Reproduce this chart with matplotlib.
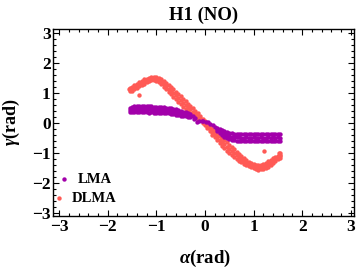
import matplotlib
matplotlib.use("Agg")
import matplotlib.pyplot as plt
from matplotlib.ticker import MultipleLocator

plt.rcParams['font.family'] = ['Liberation Serif', 'DejaVu Serif']
plt.rcParams['font.weight'] = 'bold'
plt.rcParams['mathtext.fontset'] = 'custom'
plt.rcParams['mathtext.it'] = 'Liberation Serif:italic:bold'
plt.rcParams['mathtext.rm'] = 'Liberation Serif:bold'

# ---------------- data ----------------
dlma_alpha = [-1.55, -1.50, -1.45, -1.40, -1.35, -1.30, -1.25, -1.20, -1.15, -1.10,
              -1.05, -1.00, -0.95, -0.90, -0.85, -0.80, -0.75, -0.70, -0.65, -0.60,
              -0.55, -0.50, -0.45, -0.40, -0.35, -0.30, -0.25, -0.20, -0.15, -0.10,
              -0.05, 0.00, 0.05, 0.10, 0.15, 0.20, 0.25, 0.30, 0.35, 0.40,
              0.45, 0.50, 0.55, 0.60, 0.65, 0.70, 0.75, 0.80, 0.85, 0.90,
              0.95, 1.00, 1.05, 1.10, 1.15, 1.20, 1.25, 1.30, 1.35, 1.40,
              1.45, 1.50, 1.55]
dlma_gamma_upper = [1.17, 1.20, 1.25, 1.31, 1.36, 1.40, 1.45, 1.48, 1.50, 1.52,
                    1.52, 1.52, 1.49, 1.45, 1.39, 1.32, 1.26, 1.20, 1.13, 1.05,
                    0.98, 0.90, 0.81, 0.73, 0.65, 0.58, 0.49, 0.41, 0.33, 0.25,
                    0.15, 0.07, -0.03, -0.12, -0.20, -0.27, -0.35, -0.43, -0.49, -0.57,
                    -0.64, -0.72, -0.80, -0.87, -0.95, -1.03, -1.10, -1.17, -1.23, -1.28,
                    -1.33, -1.37, -1.39, -1.39, -1.38, -1.36, -1.32, -1.27, -1.23, -1.17,
                    -1.12, -1.08, -1.06]
dlma_gamma_middle = [1.12, 1.14, 1.19, 1.24, 1.29, 1.33, 1.38, 1.42, 1.45, 1.47,
                     1.47, 1.46, 1.42, 1.37, 1.30, 1.22, 1.15, 1.08, 1.00, 0.92,
                     0.84, 0.76, 0.68, 0.60, 0.53, 0.46, 0.38, 0.31, 0.24, 0.17,
                     0.08, 0.00, -0.10, -0.20, -0.29, -0.37, -0.46, -0.55, -0.62, -0.70,
                     -0.78, -0.86, -0.93, -1.00, -1.07, -1.14, -1.20, -1.26, -1.31, -1.36,
                     -1.40, -1.44, -1.46, -1.47, -1.46, -1.45, -1.41, -1.36, -1.31, -1.25,
                     -1.19, -1.14, -1.11]
dlma_gamma_lower = [1.07, 1.08, 1.13, 1.17, 1.22, 1.26, 1.31, 1.36, 1.40, 1.42,
                    1.42, 1.40, 1.35, 1.29, 1.21, 1.12, 1.04, 0.96, 0.87, 0.79,
                    0.70, 0.62, 0.55, 0.47, 0.41, 0.34, 0.27, 0.21, 0.15, 0.09,
                    0.01, -0.07, -0.17, -0.28, -0.38, -0.47, -0.57, -0.67, -0.75, -0.83,
                    -0.92, -1.00, -1.06, -1.13, -1.19, -1.25, -1.30, -1.35, -1.39, -1.44,
                    -1.47, -1.51, -1.53, -1.55, -1.54, -1.54, -1.50, -1.45, -1.39, -1.33,
                    -1.26, -1.20, -1.16]
dlma_extra_alpha = [-1.36, 1.21, 1.52, 1.55, -1.57]
dlma_extra_gamma = [0.94, -0.92, -0.98, -1.00, 1.13]

lma_left_alpha = [-1.55, -1.50, -1.45, -1.40, -1.35, -1.30, -1.25, -1.20, -1.15, -1.10,
                  -1.05, -1.00, -0.95, -0.90, -0.85, -0.80, -0.75, -0.70, -0.65, -0.60,
                  -0.55, -0.50, -0.45, -0.40, -0.35, -0.30]
lma_left_upper = [0.50, 0.54, 0.56, 0.56, 0.57, 0.58, 0.58, 0.58, 0.57, 0.56,
                  0.55, 0.55, 0.54, 0.53, 0.52, 0.51, 0.50, 0.49, 0.48, 0.46,
                  0.43, 0.41, 0.38, 0.36, 0.33, 0.30]
lma_left_middle = [0.44, 0.45, 0.46, 0.46, 0.47, 0.47, 0.47, 0.47, 0.46, 0.46,
                   0.45, 0.45, 0.44, 0.43, 0.42, 0.42, 0.41, 0.40, 0.39, 0.37,
                   0.35, 0.33, 0.31, 0.29, 0.27, 0.25]
lma_left_lower = [0.38, 0.36, 0.36, 0.36, 0.37, 0.36, 0.36, 0.36, 0.35, 0.36,
                  0.35, 0.35, 0.34, 0.33, 0.32, 0.33, 0.32, 0.31, 0.30, 0.28,
                  0.27, 0.25, 0.24, 0.22, 0.21, 0.20]

lma_mid_alpha = [-0.25, -0.22, -0.20, -0.16, -0.13, -0.06, -0.05, 0.03, 0.07, 0.10, 0.16, 0.20]
lma_mid_gamma = [0.22, 0.12, 0.18, 0.05, 0.06, 0.07, 0.07, 0.02, 0.02, -0.02, -0.06, -0.12]

lma_right_alpha = [0.25, 0.30, 0.35, 0.40, 0.45, 0.50, 0.55, 0.60, 0.65, 0.70,
                   0.75, 0.80, 0.85, 0.90, 0.95, 1.00, 1.05, 1.10, 1.15, 1.20,
                   1.25, 1.30, 1.35, 1.40, 1.45, 1.50, 1.55]
lma_right_upper = [-0.15, -0.20, -0.24, -0.28, -0.30, -0.33, -0.34, -0.35, -0.36, -0.36,
                   -0.37, -0.37, -0.36, -0.37, -0.37, -0.36, -0.37, -0.37, -0.36, -0.37,
                   -0.37, -0.36, -0.37, -0.36, -0.37, -0.36, -0.37]
lma_right_middle = [-0.20, -0.26, -0.32, -0.37, -0.40, -0.43, -0.45, -0.46, -0.47, -0.47,
                    -0.48, -0.48, -0.47, -0.48, -0.48, -0.47, -0.48, -0.48, -0.47, -0.48,
                    -0.48, -0.47, -0.48, -0.47, -0.48, -0.47, -0.48]
lma_right_lower = [-0.25, -0.32, -0.40, -0.46, -0.50, -0.53, -0.56, -0.57, -0.58, -0.58,
                   -0.59, -0.59, -0.58, -0.59, -0.59, -0.58, -0.59, -0.59, -0.58, -0.59,
                   -0.59, -0.58, -0.59, -0.58, -0.59, -0.58, -0.59]

tick_values = [-3, -2, -1, 0, 1, 2, 3]
series_names = ["LMA", "DLMA"]
title_text = "H1 (NO)"

# ---------------- styling ----------------
lma_color = "#A200AA"
dlma_color = "#FF5A55"
msize = 10

fig = plt.figure(figsize=(3.6, 2.71), dpi=100)
ax = fig.add_axes([0.148, 0.203, 0.836, 0.689])

for g in (dlma_gamma_upper, dlma_gamma_middle, dlma_gamma_lower):
    ax.scatter(dlma_alpha, g, s=msize, color=dlma_color, linewidths=0, zorder=2)
ax.scatter(dlma_extra_alpha, dlma_extra_gamma, s=msize, color=dlma_color, linewidths=0, zorder=2)

for g in (lma_left_upper, lma_left_middle, lma_left_lower):
    ax.scatter(lma_left_alpha, g, s=msize, color=lma_color, linewidths=0, zorder=3)
for g in (lma_right_upper, lma_right_middle, lma_right_lower):
    ax.scatter(lma_right_alpha, g, s=msize, color=lma_color, linewidths=0, zorder=3)
ax.scatter(lma_mid_alpha, lma_mid_gamma, s=msize, color=lma_color, linewidths=0, zorder=3)

ax.set_xlim(-3.12, 3.07)
ax.set_ylim(-3.09, 3.12)
ax.set_xticks(tick_values)
ax.set_yticks(tick_values)
ax.xaxis.set_minor_locator(MultipleLocator(0.2))
ax.yaxis.set_minor_locator(MultipleLocator(0.2))
ax.tick_params(which='both', direction='in', top=True, right=True, width=0.8, color='black')
ax.tick_params(which='major', length=4.0, labelsize=12.5, pad=2)
ax.tick_params(which='minor', length=2.0)
for lab in ax.get_xticklabels() + ax.get_yticklabels():
    lab.set_fontweight('bold')
for sp in ax.spines.values():
    sp.set_linewidth(1.0)

ax.set_title(title_text, fontsize=13.5, fontweight='bold', pad=7)
ax.set_xlabel(r"$\alpha$(rad)", fontsize=13.5, fontweight='bold')
ax.set_ylabel(r"$\gamma$(rad)", fontsize=13, fontweight='bold')
ax.xaxis.set_label_coords(0.505, -0.172)
ax.yaxis.set_label_coords(-0.105, 0.5)

# legend: two rows, each centred like the reference
h_lma = ax.scatter([], [], s=msize, color=lma_color, linewidths=0)
h_dlma = ax.scatter([], [], s=msize, color=dlma_color, linewidths=0)
leg1 = ax.legend([h_lma], [series_names[0]], loc='center', bbox_to_anchor=(0.108, 0.197),
                 frameon=False, handlelength=0.6, handletextpad=0.6, borderpad=0,
                 prop={'family': 'Liberation Serif', 'weight': 'bold', 'size': 10.5})
ax.add_artist(leg1)
ax.legend([h_dlma], [series_names[1]], loc='center', bbox_to_anchor=(0.107, 0.095),
          frameon=False, handlelength=0.6, handletextpad=0.6, borderpad=0,
          prop={'family': 'Liberation Serif', 'weight': 'bold', 'size': 10.5})

fig.savefig("out.png", dpi=100)
